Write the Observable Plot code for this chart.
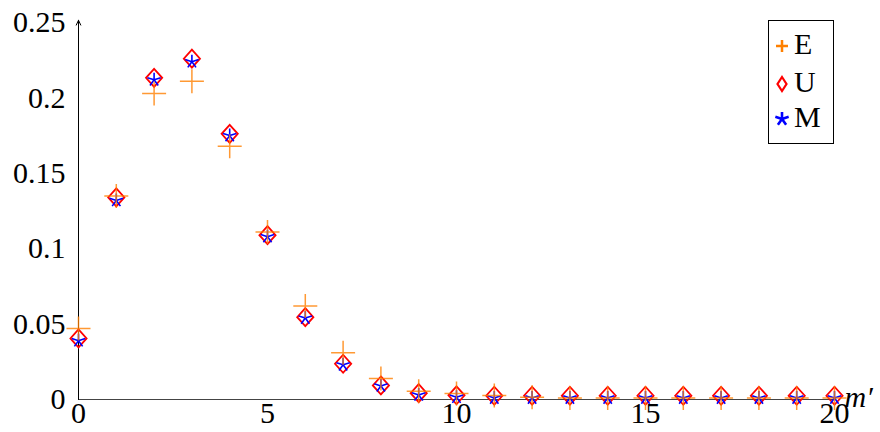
<!DOCTYPE html>
<html>
<head>
<meta charset="utf-8">
<script src="https://cdn.jsdelivr.net/npm/d3@7"></script>
<script src="https://cdn.jsdelivr.net/npm/@observablehq/plot@0.6"></script>
<style>
  html, body { margin: 0; padding: 0; background: #fff; }
  #wrap { position: relative; width: 880px; height: 432px; }
  #legend {
    position: absolute; left: 768px; top: 20px; width: 64px; height: 122px;
    border: 1px solid #000; background: #fff;
    font-family: "Liberation Serif", serif; font-size: 30px; color: #000;
  }
  .row { position: absolute; left: 0; height: 30px; width: 64px; }
  .row svg { position: absolute; left: 3px; top: 5px; }
  .row span { position: absolute; left: 25px; top: -4px; line-height: 34px; }
</style>
</head>
<body>
<div id="wrap"></div>
<script>
// ---- data ----
const mValues = [0, 1, 2, 3, 4, 5, 6, 7, 8, 9, 10, 11, 12, 13, 14, 15, 16, 17, 18, 19, 20];
const seriesE = [0.047, 0.135, 0.203, 0.211, 0.168, 0.111, 0.062, 0.031, 0.014, 0.0055, 0.004, 0.0027, 0.0015, 0.001, 0.001, 0.001, 0.001, 0.001, 0.001, 0.001, 0.001];
const seriesU = [0.0405, 0.134, 0.2133, 0.226, 0.1762, 0.109, 0.0546, 0.0237, 0.0093, 0.0042, 0.0028, 0.0025, 0.0025, 0.0025, 0.0025, 0.0025, 0.0025, 0.0025, 0.0025, 0.0025, 0.0025];
const seriesM = [0.039, 0.132, 0.212, 0.224, 0.175, 0.108, 0.054, 0.023, 0.009, 0.003, 0.0015, 0.001, 0.001, 0.001, 0.001, 0.001, 0.001, 0.001, 0.001, 0.001, 0.001];
const yTicks = [0, 0.05, 0.1, 0.15, 0.2, 0.25];
const xTicks = [0, 5, 10, 15, 20];
const seriesNames = ["E", "U", "M"];
const xLabel = "m′";

const rows = mValues.map((m, i) => ({m, E: seriesE[i], U: seriesU[i], M: seriesM[i]}));

// ---- custom marker shapes ----
const plusSym = {draw(ctx, size) {
  const r = Math.sqrt(size / Math.PI);
  ctx.moveTo(-r, 0); ctx.lineTo(r, 0);
  ctx.moveTo(0, -r); ctx.lineTo(0, r);
}};
const diamondSym = {draw(ctx, size) {
  const r = Math.sqrt(size / Math.PI);
  ctx.moveTo(0, -r); ctx.lineTo(r * 0.9, 0); ctx.lineTo(0, r); ctx.lineTo(-r * 0.9, 0); ctx.closePath();
}};
const starSym = {draw(ctx, size) {
  const r = Math.sqrt(size / Math.PI);
  for (let k = 0; k < 5; k++) {
    const a = -Math.PI / 2 + k * 2 * Math.PI / 5;
    ctx.moveTo(0, 0); ctx.lineTo(r * Math.cos(a), r * Math.sin(a));
  }
}};

const serif = "Liberation Serif, serif";

const chart = Plot.plot({
  width: 880,
  height: 432,
  marginLeft: 78,
  marginRight: 46,
  marginTop: 22,
  marginBottom: 33,
  x: {domain: [0, 20]},
  y: {domain: [0, 0.25]},
  style: {fontFamily: serif, background: "#fff"},
  marks: [
    Plot.ruleY([0], {stroke: "#444", strokeWidth: 1.2}),
    Plot.arrow([0], {x1: 0, y1: 0, x2: 0, y2: 0.2515, stroke: "#000", strokeWidth: 1, headLength: 8, headAngle: 50}),
    Plot.axisY({ticks: yTicks, tickSize: 0, tickPadding: 13, fontSize: 30, label: null, tickFormat: d => String(d)}),
    Plot.axisX({ticks: xTicks, tickSize: 0, tickPadding: 2, fontSize: 30, label: null}),
    Plot.text([xLabel], {x: 20, y: 0, dx: 10, dy: -2, text: d => d, textAnchor: "start", fontStyle: "italic", fontSize: 30, fontFamily: serif}),
    Plot.dot(rows, {x: "m", y: "U", symbol: diamondSym, r: 9, stroke: "#ff0000", strokeWidth: 1.8, fill: "none"}),
    Plot.dot(rows, {x: "m", y: "M", symbol: starSym, r: 7, stroke: "#0000ff", strokeWidth: 1.6, fill: "none"}),
    Plot.dot(rows, {x: "m", y: "E", symbol: plusSym, r: 12, stroke: "#ff8000", strokeWidth: 1.5, strokeOpacity: 0.8, fill: "none"})
  ]
});
document.getElementById("wrap").appendChild(chart);

// ---- legend ----
const legendSpec = [
  {name: seriesNames[0], color: "#ff8000", sym: "plus"},
  {name: seriesNames[1], color: "#ff0000", sym: "diamond"},
  {name: seriesNames[2], color: "#0000ff", sym: "star"}
];
const legend = document.createElement("div");
legend.id = "legend";
const tops = [10, 48, 83];
legendSpec.forEach((s, i) => {
  const row = document.createElement("div");
  row.className = "row";
  row.style.top = tops[i] + "px";
  let path;
  if (s.sym === "plus") path = `<path d="M4,10H16M10,4V16" stroke="${s.color}" stroke-width="2.5" fill="none"/>`;
  else if (s.sym === "diamond") path = `<path d="M10,3L14.5,10L10,17L5.5,10Z" stroke="${s.color}" stroke-width="2.2" fill="none"/>`;
  else {
    let d = "";
    for (let k = 0; k < 5; k++) {
      const a = -Math.PI / 2 + k * 2 * Math.PI / 5;
      d += `M10,10L${(10 + 7 * Math.cos(a)).toFixed(2)},${(10 + 7 * Math.sin(a)).toFixed(2)}`;
    }
    path = `<path d="${d}" stroke="${s.color}" stroke-width="2.6" fill="none"/>`;
  }
  row.innerHTML = `<svg width="20" height="20">${path}</svg><span>${s.name}</span>`;
  legend.appendChild(row);
});
document.getElementById("wrap").appendChild(legend);
</script>
</body>
</html>
